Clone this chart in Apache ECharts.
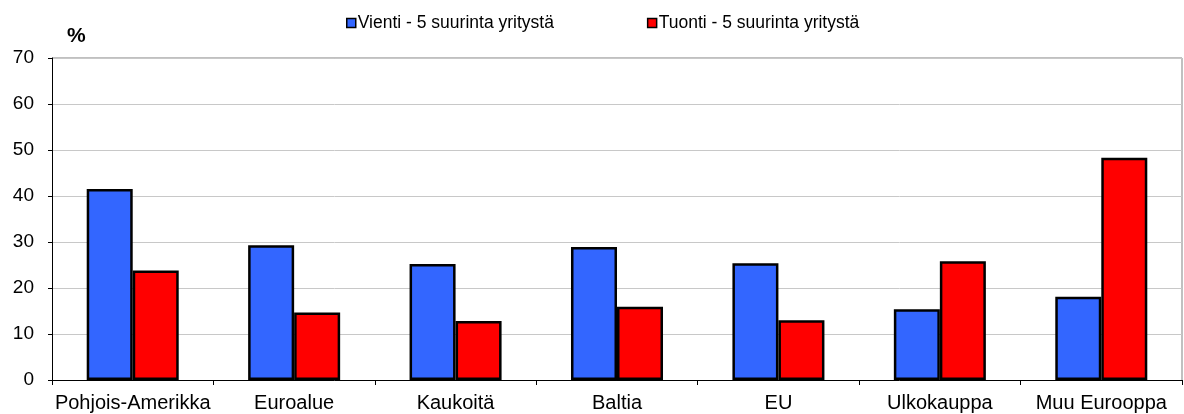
<!DOCTYPE html>
<html>
<head>
<meta charset="utf-8">
<script src="https://cdn.jsdelivr.net/npm/echarts@6/dist/echarts.min.js"></script>
<style>
html,body{margin:0;padding:0;background:#fff;}
#c{width:1184px;height:414px;}
</style>
</head>
<body>
<div id="c"></div>
<script>
const categories = ['Pohjois-Amerikka', 'Euroalue', 'Kaukoitä', 'Baltia', 'EU', 'Ulkokauppa', 'Muu Eurooppa'];
const vienti = [41.5, 29.3, 25.2, 28.9, 25.4, 15.4, 18.1];
const tuonti = [23.8, 14.7, 12.8, 15.9, 13.0, 25.8, 48.3];
const seriesNames = ['Vienti - 5 suurinta yritystä', 'Tuonti - 5 suurinta yritystä'];
const yTicks = [0, 10, 20, 30, 40, 50, 60, 70];

const chart = echarts.init(document.getElementById('c'));
const font = 'Liberation Sans, Arial, sans-serif';
chart.setOption({
  animation: false,
  textStyle: { fontFamily: font },
  legend: {
    top: 9,
    left: 341,
    itemGap: 93,
    itemWidth: 9,
    itemHeight: 9,
    icon: 'rect',
    itemStyle: { borderColor: '#000', borderWidth: 1.5 },
    textStyle: { fontSize: 17.5, color: '#000', fontFamily: font, padding: [0, 0, 0, -3] },
    data: seriesNames
  },
  graphic: [
    { type: 'text', left: 67, top: 26, style: { text: '%', font: 'bold 21px ' + font, fill: '#000' } },
    { type: 'line', shape: { x1: 52, y1: 58, x2: 1182, y2: 58 }, style: { stroke: '#c0c0c0', lineWidth: 2 } },
    { type: 'line', shape: { x1: 1182, y1: 58, x2: 1182, y2: 380 }, style: { stroke: '#c0c0c0', lineWidth: 2 } }
  ],
  grid: { left: 52, right: 2, top: 58, bottom: 34, containLabel: false },
  xAxis: {
    type: 'category',
    data: categories,
    axisLine: { lineStyle: { color: '#000', width: 1 } },
    axisTick: { show: true, length: 5, lineStyle: { color: '#000' } },
    axisLabel: { color: '#000', fontSize: 20, margin: 13, interval: 0, fontFamily: font }
  },
  yAxis: {
    type: 'value',
    min: yTicks[0],
    max: yTicks[yTicks.length - 1],
    interval: 10,
    axisLine: { show: true, lineStyle: { color: '#000', width: 1 } },
    axisTick: { show: true, length: 4, lineStyle: { color: '#000' } },
    axisLabel: { color: '#000', fontSize: 19, margin: 18, fontFamily: font },
    splitLine: { lineStyle: { color: '#c8c8c8', width: 1 } }
  },
  series: [
    {
      name: seriesNames[0], type: 'bar', data: vienti,
      barGap: '0%', barCategoryGap: '43%',
      itemStyle: { color: '#3366ff', borderColor: '#000', borderWidth: 2.5 }
    },
    {
      name: seriesNames[1], type: 'bar', data: tuonti,
      barGap: '0%', barCategoryGap: '43%',
      itemStyle: { color: '#ff0000', borderColor: '#000', borderWidth: 2.5 }
    }
  ]
});
</script>
</body>
</html>
